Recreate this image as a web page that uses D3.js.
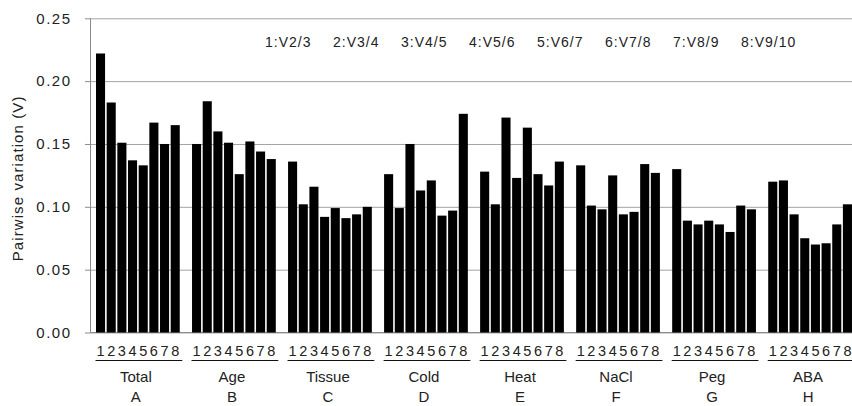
<!DOCTYPE html>
<html>
<head>
<meta charset="utf-8">
<script src="https://cdn.jsdelivr.net/npm/d3@7"></script>
<style>
  body { margin: 0; background: #fff; }
  svg { display: block; font-family: "Liberation Sans", Arial, sans-serif; }
</style>
</head>
<body>
<div id="chart"></div>
<script>
// groups and their letters
var groups = ["Total", "Age", "Tissue", "Cold", "Heat", "NaCl", "Peg", "ABA"];
var letters = ["A", "B", "C", "D", "E", "F", "G", "H"];
var pairLabels = ["1", "2", "3", "4", "5", "6", "7", "8"];
var legendLabels = ["1:V2/3", "2:V3/4", "3:V4/5", "4:V5/6", "5:V6/7", "6:V7/8", "7:V8/9", "8:V9/10"];
var yTicks = [0, 0.05, 0.10, 0.15, 0.20, 0.25];

// pairwise variation per group (pairs 1..8)
var total  = [0.222, 0.183, 0.151, 0.137, 0.133, 0.167, 0.150, 0.165];
var age    = [0.150, 0.184, 0.160, 0.151, 0.126, 0.152, 0.144, 0.138];
var tissue = [0.136, 0.102, 0.116, 0.092, 0.099, 0.091, 0.094, 0.100];
var cold   = [0.126, 0.099, 0.150, 0.113, 0.121, 0.093, 0.097, 0.174];
var heat   = [0.128, 0.102, 0.171, 0.123, 0.163, 0.126, 0.117, 0.136];
var nacl   = [0.133, 0.101, 0.098, 0.125, 0.094, 0.096, 0.134, 0.127];
var peg    = [0.130, 0.089, 0.086, 0.089, 0.086, 0.080, 0.101, 0.098];
var aba    = [0.120, 0.121, 0.094, 0.075, 0.070, 0.071, 0.086, 0.102];
var seriesValues = [total, age, tissue, cold, heat, nacl, peg, aba];

var width = 852, height = 406;
var plotLeft = 90, plotRight = 900;

var svg = d3.select("#chart").append("svg")
    .attr("width", width)
    .attr("height", height);

// each group = 8 bars + one empty slot
var slots = [];
groups.forEach(function(g, gi) {
  for (var i = 0; i < 9; i++) slots.push(gi + "-" + i);
});

var step = 10.67;
var x = d3.scaleBand()
    .domain(slots)
    .range([96, 96 + (slots.length - 0.15) * step])
    .paddingInner(0.15)
    .paddingOuter(0);

var y = d3.scaleLinear()
    .domain([0, 0.25])
    .range([332.5, 18.3]);

// gridlines
svg.append("g")
    .attr("transform", "translate(" + plotLeft + ",0)")
    .call(d3.axisLeft(y).tickValues(yTicks).tickSize(-(plotRight - plotLeft)).tickFormat(""))
    .call(function(g) {
      g.select(".domain").remove();
      g.selectAll("line").attr("stroke", "#a3a3a3").attr("stroke-width", 1);
    });

// y axis
svg.append("g")
    .attr("transform", "translate(" + plotLeft + ",0)")
    .call(d3.axisLeft(y).tickValues(yTicks).tickSize(5).tickPadding(13.5).tickFormat(d3.format(".2f")))
    .call(function(g) {
      g.select(".domain").attr("stroke", "#8c8c8c").attr("d", "M0.5," + y(0.25) + "V" + y(0));
      g.selectAll("line").attr("stroke", "#8c8c8c");
      g.selectAll("text")
        .attr("fill", "#222")
        .attr("font-size", "15px")
        .attr("letter-spacing", "1.5px")
        .attr("font-family", "'Liberation Sans', Arial, sans-serif");
    });

// baseline
svg.append("line")
    .attr("x1", plotLeft).attr("x2", plotRight)
    .attr("y1", y(0)).attr("y2", y(0))
    .attr("stroke", "#8c8c8c");

// bars
var bars = [];
seriesValues.forEach(function(vals, gi) {
  vals.forEach(function(v, i) {
    bars.push({ key: gi + "-" + i, value: v, label: pairLabels[i] });
  });
});

svg.selectAll("rect.bar")
    .data(bars)
    .enter()
    .append("rect")
    .attr("class", "bar")
    .attr("x", function(d) { return x(d.key); })
    .attr("y", function(d) { return y(d.value); })
    .attr("width", x.bandwidth())
    .attr("height", function(d) { return y(0) - y(d.value); })
    .attr("fill", "#000");

// pair numbers under bars
svg.selectAll("text.pair")
    .data(bars)
    .enter()
    .append("text")
    .attr("class", "pair")
    .attr("x", function(d) { return x(d.key) + x.bandwidth() / 2; })
    .attr("y", 356)
    .attr("text-anchor", "middle")
    .attr("font-size", "14.5px")
    .attr("fill", "#222")
    .text(function(d) { return d.label; });

// group underline + names
var grp = svg.selectAll("g.group")
    .data(groups)
    .enter()
    .append("g")
    .attr("class", "group");

grp.append("line")
    .attr("x1", function(d, gi) { return x(gi + "-0") - 0.5; })
    .attr("x2", function(d, gi) { return x(gi + "-7") + x.bandwidth() + 2.5; })
    .attr("y1", 360.5).attr("y2", 360.5)
    .attr("stroke", "#111")
    .attr("stroke-width", 1.2);

function groupCenter(gi) {
  return (x(gi + "-0") + x(gi + "-7") + x.bandwidth()) / 2 - 2;
}

grp.append("text")
    .attr("x", function(d, gi) { return groupCenter(gi); })
    .attr("y", 381.5)
    .attr("text-anchor", "middle")
    .attr("font-size", "15px")
    .attr("fill", "#222")
    .text(function(d) { return d; });

grp.append("text")
    .attr("x", function(d, gi) { return groupCenter(gi); })
    .attr("y", 401.5)
    .attr("text-anchor", "middle")
    .attr("font-size", "15px")
    .attr("fill", "#222")
    .text(function(d, gi) { return letters[gi]; });

// legend of pair codes
svg.selectAll("text.legend")
    .data(legendLabels)
    .enter()
    .append("text")
    .attr("class", "legend")
    .attr("x", function(d, i) { return 265 + i * 68; })
    .attr("y", 46.5)
    .attr("font-size", "14px")
    .attr("letter-spacing", "1px")
    .attr("fill", "#222")
    .text(function(d) { return d; });

// y title
svg.append("text")
    .attr("transform", "translate(23," + ((y(0) + y(0.25)) / 2 + 3) + ") rotate(-90)")
    .attr("text-anchor", "middle")
    .attr("font-size", "15px")
    .attr("letter-spacing", "1.1px")
    .attr("fill", "#222")
    .text("Pairwise variation (V)");
</script>
</body>
</html>
